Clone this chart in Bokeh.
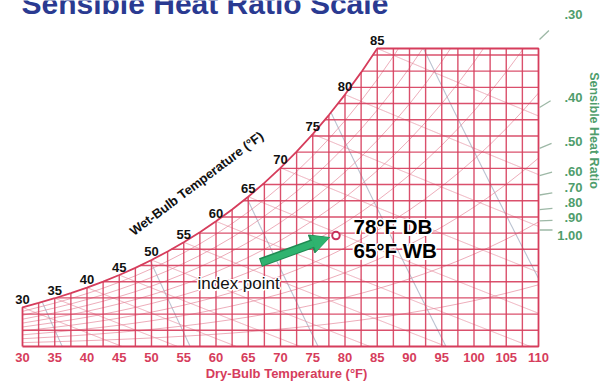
import numpy as np
from bokeh.plotting import figure
from bokeh.models import Range1d, Arrow, NormalHead
from bokeh.core.properties import value
from bokeh.embed import file_html
from bokeh.resources import INLINE

# ---------------- data ----------------
dry_bulb_nodes = [30, 32.5, 35, 37.5, 40, 42.5, 45, 47.5, 50, 52.5, 55, 57.5, 60, 62.5,
                  65, 67.5, 70, 72.5, 75, 77.5, 80, 82.5, 85, 87.5, 90, 92.5, 95, 97.5,
                  100, 102.5, 105, 107.5, 110]
sat_pressure_psia = [0.0810, 0.0904, 0.0999, 0.1103, 0.1217, 0.1340, 0.1475, 0.1621,
                     0.1781, 0.1953, 0.2141, 0.2343, 0.2563, 0.2800, 0.3056, 0.3333,
                     0.3631, 0.3952, 0.4298, 0.4670, 0.5069, 0.5499, 0.5959, 0.6453,
                     0.6982, 0.7550, 0.8156, 0.8806, 0.9497, 1.0235, 1.1019, 1.1857, 1.2748]
ATM_PSIA = 14.696
db_tick_values = [30, 35, 40, 45, 50, 55, 60, 65, 70, 75, 80, 85, 90, 95, 100, 105, 110]
db_tick_labels = ["30", "35", "40", "45", "50", "55", "60", "65", "70", "75", "80", "85",
                  "90", "95", "100", "105", "110"]
wb_label_values = [30, 35, 40, 45, 50, 55, 60, 65, 70, 75, 80, 85]
wb_label_texts = ["30", "35", "40", "45", "50", "55", "60", "65", "70", "75", "80", "85"]
rh_levels = [0.1, 0.2, 0.3, 0.4, 0.5, 0.6, 0.7, 0.8, 0.9]
volume_levels = [12.5, 13.0, 13.5, 14.0, 14.5]
shr_values = [0.30, 0.40, 0.50, 0.60, 0.70, 0.80, 0.90, 1.00]
shr_labels = [".30", ".40", ".50", ".60", ".70", ".80", ".90", "1.00"]
index_db = 78.6          # deg F
index_w = 68.5           # grains / lb
index_texts = ["78°F DB", "65°F WB"]

# ---------------- layout (window pixels) ----------------
W_PX, H_PX = 603, 383
X30, PX_PER_F = 22.0, 6.45
Y0, PX_PER_GR = 346.0, 1.6196
FONT = "Liberation Sans"
RED = "#d63d5c"
PINK = "#e58a9c"
GRAY = "#a9b3c6"
GREEN = "#4f9d6c"
NAVY = "#2a3a91"


def tx(px):
    return 30 + (px - X30) / PX_PER_F


def wy(py):
    return (Y0 - py) / PX_PER_GR


T = np.array(dry_bulb_nodes, dtype=float)
pws = np.array(sat_pressure_psia)
ws = 7000 * 0.622 * pws / (ATM_PSIA - pws)       # grains / lb at saturation
W_TOP = float(np.interp(85, T, ws))


def wsat(t):
    return np.interp(t, T, ws)


p = figure(width=W_PX, height=H_PX, output_backend="svg", toolbar_location=None,
           x_range=Range1d(tx(0), tx(W_PX)), y_range=Range1d(wy(H_PX), wy(0)),
           x_axis_location=None, y_axis_location=None, min_border=0,
           outline_line_color=None, background_fill_color="white")
p.grid.visible = False


def inside(tt, ww):
    return (tt >= 30) & (tt <= 110) & (ww >= 0) & (ww <= np.minimum(wsat(tt), W_TOP) + 1e-9)


# ---- specific volume lines (gray) ----
vx, vy = [], []
ts = np.linspace(30, 110, 1601)
for v in volume_levels:
    wl = (v * ATM_PSIA / (0.370486 * (ts + 459.67)) - 1) / 1.607858 * 7000
    m = inside(ts, wl)
    if m.sum() > 1:
        vx.append(list(ts[m])); vy.append(list(wl[m]))
p.multi_line(vx, vy, line_color=GRAY, line_width=1.1, line_alpha=0.8)

# ---- wet bulb lines (pink) ----
bx, by = [], []
for twb in wb_label_values:
    wss = float(wsat(twb)) / 7000
    tt = np.linspace(twb, 110, 801)
    wl = ((1093 - 0.556 * twb) * wss - 0.240 * (tt - twb)) / (1093 + 0.444 * tt - twb) * 7000
    m = inside(tt, wl)
    bx.append(list(tt[m])); by.append(list(wl[m]))
p.multi_line(bx, by, line_color=PINK, line_width=1, line_alpha=0.7)

# ---- relative humidity curves (pink) ----
rx, ry = [], []
for phi in rh_levels:
    wl = 7000 * 0.622 * phi * pws / (ATM_PSIA - phi * pws)
    xs, ys = [], []
    for i in range(len(T)):
        if wl[i] <= W_TOP:
            xs.append(T[i]); ys.append(wl[i])
        else:
            t0, t1, w0, w1 = T[i - 1], T[i], wl[i - 1], wl[i]
            xs.append(t0 + (W_TOP - w0) / (w1 - w0) * (t1 - t0)); ys.append(W_TOP)
            break
    rx.append(xs); ry.append(ys)
p.multi_line(rx, ry, line_color=PINK, line_width=1, line_alpha=0.7)

# ---- main grid (red) ----
gx, gy = [], []
for t in np.arange(32.5, 110, 2.5):
    gx.append([t, t]); gy.append([0, min(float(wsat(t)), W_TOP)])
for w in range(10, 181, 10):
    left = max(30.0, float(np.interp(w, ws, T)))
    gx.append([left, 110]); gy.append([w, w])
p.multi_line(gx, gy, line_color=RED, line_width=1.4, line_alpha=0.9)

# frame + saturation curve
sat_mask = T <= 85
fx = [30, 30] + list(T[sat_mask]) + [110, 110, 30]
fy = [0, float(ws[0])] + list(ws[sat_mask]) + [W_TOP, 0, 0]
p.line(fx, fy, line_color=RED, line_width=1.8)

# ---- wet-bulb labels ----
p.text(x=wb_label_values, y=list(wsat(np.array(wb_label_values, dtype=float))), text=wb_label_texts,
       text_font=value(FONT), text_font_style="bold", text_font_size="13px", text_color="#111111",
       text_align="center", text_baseline="middle", y_offset=-8)

p.text(x=[tx(196)], y=[wy(183)], text=["Wet-Bulb Temperature (°F)"], angle=np.deg2rad(37),
       text_font=value(FONT), text_font_style="bold", text_font_size="13px", text_color="#111111",
       text_align="center", text_baseline="middle")

# ---- dry-bulb tick labels ----
p.text(x=db_tick_values, y=[wy(357)] * len(db_tick_values), text=db_tick_labels,
       text_font=value(FONT), text_font_style="bold", text_font_size="13px", text_color=RED,
       text_align="center", text_baseline="middle")
p.text(x=[tx(286)], y=[wy(373)], text=["Dry-Bulb Temperature (°F)"],
       text_font=value(FONT), text_font_style="bold", text_font_size="13px", text_color=RED,
       text_align="center", text_baseline="middle")

# ---- title ----
p.text(x=[tx(21)], y=[wy(2.5)], text=["Sensible Heat Ratio Scale"],
       text_font=value(FONT), text_font_style="bold", text_font_size="30px", text_color=NAVY,
       text_align="left", text_baseline="middle")

# ---- sensible heat ratio scale ----
tp, wp = tx(337), wy(229.5)
t1 = tx(539)
sx, sy = [], []
for s in shr_values:
    slope = 7000 * 0.244 * (1 / s - 1) / 1061.0        # grains per deg F
    slope_px = slope * PX_PER_GR / PX_PER_F
    dx_px = 13 / np.sqrt(1 + slope_px ** 2)
    w1 = wp + slope * (t1 - tp)
    t2 = t1 + dx_px / PX_PER_F
    sx.append([t1, t2]); sy.append([w1, w1 + slope * (t2 - t1)])
p.multi_line(sx, sy, line_color="#9db8a6", line_width=1.3)
shr_label_py = [14, 97, 141, 170.5, 187, 202, 217, 234.5]
p.text(x=[tx(582)] * len(shr_labels), y=[wy(v) for v in shr_label_py], text=shr_labels,
       text_font=value(FONT), text_font_style="bold", text_font_size="13px", text_color=GREEN,
       text_align="right", text_baseline="middle")
p.text(x=[tx(593)], y=[wy(130)], text=["Sensible Heat Ratio"], angle=-np.pi / 2,
       text_font=value(FONT), text_font_style="bold", text_font_size="12.5px", text_color=GREEN,
       text_align="center", text_baseline="middle")

# ---- index point annotation ----
halo = [(-1.5, 0), (1.5, 0), (0, -1.5), (0, 1.5), (-1.1, -1.1), (1.1, 1.1), (-1.1, 1.1), (1.1, -1.1)]


def halo_text(x, y, txt, size, style, color, font):
    for dx, dy in halo:
        p.text(x=[x], y=[y], text=[txt], x_offset=dx, y_offset=dy, text_font=value(font),
               text_font_style=style, text_font_size=size, text_color="white",
               text_align="left", text_baseline="middle")
    p.text(x=[x], y=[y], text=[txt], text_font=value(font), text_font_style=style,
           text_font_size=size, text_color=color, text_align="left", text_baseline="middle")


halo_text(tx(353), wy(226), index_texts[0], "20.5px", "bold", "#000000", FONT)
halo_text(tx(353), wy(250), index_texts[1], "20.5px", "bold", "#000000", FONT)
halo_text(tx(197), wy(283), "index point", "17px", "normal", "#111111", FONT)

arrow_start = (tx(260), wy(262))
arrow_end = (tx(329), wy(237))
p.add_layout(Arrow(end=NormalHead(size=19, fill_color="#1f8a52", line_color="#1f8a52"),
                   x_start=arrow_start[0], y_start=arrow_start[1],
                   x_end=arrow_end[0], y_end=arrow_end[1],
                   line_width=9, line_color="#1f8a52", line_cap="butt"))
p.add_layout(Arrow(end=NormalHead(size=16, fill_color="#2fb36f", line_color="#2fb36f"),
                   x_start=arrow_start[0] + 0.15, y_start=arrow_start[1],
                   x_end=arrow_end[0] - 0.15, y_end=arrow_end[1] - 0.3,
                   line_width=6.5, line_color="#2fb36f", line_cap="butt"))

p.scatter(x=[index_db], y=[index_w], marker="circle", size=7.5, fill_color="white",
          line_color="#c8305a", line_width=2)

open("out.html", "w").write(file_html(p, INLINE))
